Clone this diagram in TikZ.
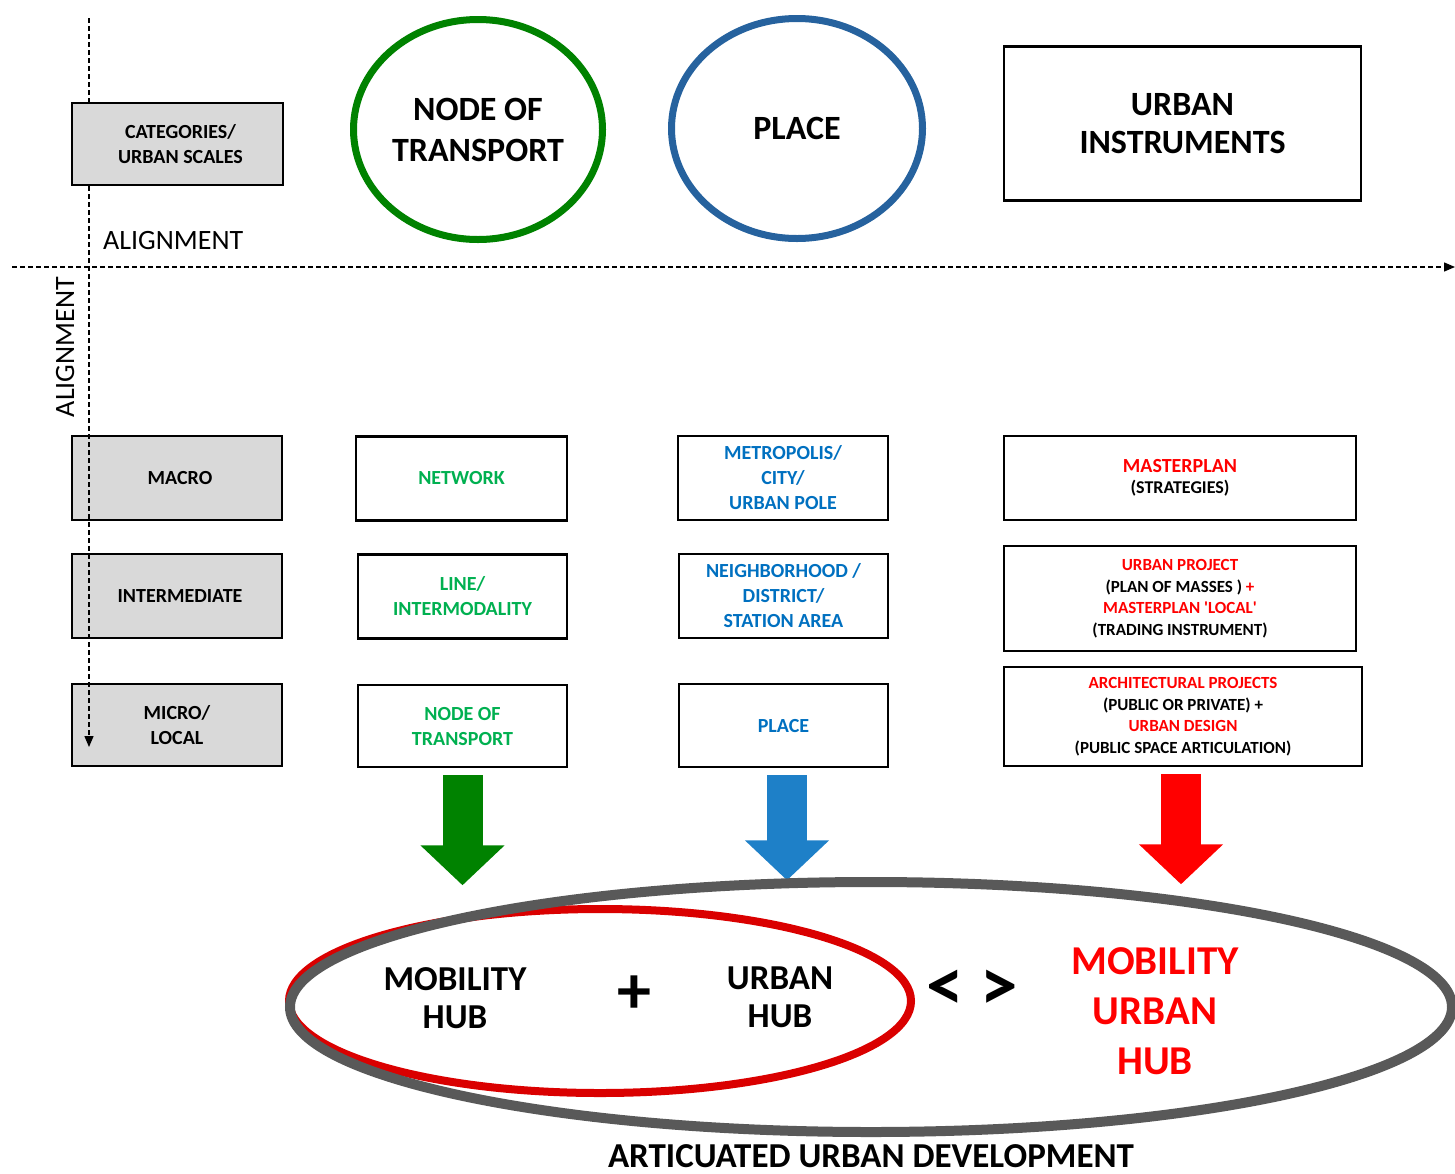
\documentclass[tikz,border=0pt]{standalone}
\usepackage{fontspec}
\setmainfont{Carlito}
\usetikzlibrary{arrows.meta,shapes.geometric}

\definecolor{boxgray}{RGB}{217,217,217}
\definecolor{txtgreen}{RGB}{0,176,80}
\definecolor{txtblue}{RGB}{0,112,192}
\definecolor{txtred}{RGB}{255,0,0}
\definecolor{ringgreen}{RGB}{0,130,0}
\definecolor{ringblue}{RGB}{38,98,158}
\definecolor{arrowblue}{RGB}{30,128,200}
\definecolor{ringgray}{RGB}{89,89,89}
\definecolor{ringred}{RGB}{218,0,0}

\begin{document}
\begin{tikzpicture}[x=1pt, y=-1pt,
	box/.style={draw, line width=2.5pt, align=center, inner sep=0pt,
		font=\bfseries\fontsize{20}{25}\selectfont},
	scalebox/.style={box, fill=boxgray, minimum width=210pt, minimum height=84pt},
	colbox/.style={box, minimum width=210pt, minimum height=84pt},
	instrbox/.style={box, minimum width=352pt, font=\bfseries\fontsize{17}{21.5}\selectfont},
	ring/.style={ellipse, draw, line width=7pt, inner sep=0pt, align=center,
		font=\bfseries\fontsize{34}{41}\selectfont},
	axis/.style={line width=1.3pt, dash pattern=on 5pt off 3pt, -{Triangle[length=11pt,width=9pt]}},
	axislabel/.style={font=\fontsize{28}{28}\selectfont, inner sep=0pt},
	blockarrow/.style={line width=40pt, -{Triangle[length=40pt,width=82pt]}},
	hubtext/.style={align=center, inner sep=0pt, font=\bfseries\fontsize{35}{38}\selectfont}]

	\useasboundingbox (0,0) rectangle (1455,1173);

	% scales
	\node[scalebox] (macro) at (177,478) {\hspace*{6pt}MACRO};
	\node[scalebox] (inter) at (177,596) {\hspace*{6pt}INTERMEDIATE};
	\node[scalebox, minimum height=82pt] (micro) at (177,725) {MICRO/\\LOCAL};

	% alignment axes
	\coordinate (vtop) at (89,18);
	\coordinate (vend) at (89,747);
	\coordinate (hstart) at (12,267);
	\coordinate (hend) at (1455,267);
	\draw[axis] (vtop) -- (vend);
	\draw[axis] (hstart) -- (hend);
	\node[axislabel, anchor=base west] (alignh) at (103,249) {ALIGNMENT};
	\node[axislabel, anchor=base, rotate=90] (alignv) at (74,347) {ALIGNMENT};

	\node[scalebox, minimum width=211pt, minimum height=82pt] (cat) at (177.5,144) {\hspace*{6pt}CATEGORIES/\\\hspace*{6pt}URBAN SCALES};

	% headers
	\node[ring, draw=ringgreen, minimum width=249pt, minimum height=220pt] (ntop) at (478,129.5) {NODE OF\\TRANSPORT};
	\node[ring, draw=ringblue, minimum width=251pt, minimum height=220pt] (ptop) at (797,128.5) {PLACE};
	\node[box, minimum width=357pt, minimum height=154pt, font=\bfseries\fontsize{34}{38}\selectfont] (itop) at (1182.5,123.5) {URBAN\\INSTRUMENTS};

	% node of transport column
	\node[colbox, text=txtgreen, minimum width=211pt] (net) at (461.5,478.5) {NETWORK};
	\node[colbox, text=txtgreen, minimum width=209pt] (line) at (462.5,596.5) {LINE/\\INTERMODALITY};
	\node[colbox, text=txtgreen, minimum width=209pt, minimum height=82pt] (nt) at (462.5,726) {NODE OF\\TRANSPORT};

	% place column
	\node[colbox, text=txtblue] (metro) at (783,478) {METROPOLIS/\\CITY/\\URBAN POLE};
	\node[colbox, text=txtblue, minimum width=209pt] (neigh) at (783.5,596) {NEIGHBORHOOD /\\DISTRICT/\\STATION AREA};
	\node[colbox, text=txtblue, minimum width=209pt, minimum height=83pt] (place) at (783.5,725.5) {PLACE};

	% instruments column
	\node[instrbox, minimum height=84pt] (master) at (1180,478) {\fontsize{20}{25}\selectfont\textcolor{txtred}{MASTERPLAN}\\\fontsize{18}{25}\selectfont(STRATEGIES)};
	\node[instrbox, minimum height=105pt] (uproj) at (1180,598.5) {\textcolor{txtred}{URBAN PROJECT}\\(PLAN OF MASSES )~\textcolor{txtred}{+}\\\textcolor{txtred}{MASTERPLAN \textquotesingle LOCAL\textquotesingle}\\(TRADING INSTRUMENT)};
	\node[instrbox, minimum width=358pt, minimum height=99pt] (arch) at (1183,716.5) {\textcolor{txtred}{ARCHITECTURAL PROJECTS}\\(PUBLIC OR PRIVATE) +\\\textcolor{txtred}{URBAN DESIGN}\\(PUBLIC SPACE ARTICULATION)};

	% block arrows
	\draw[blockarrow, ringgreen] ([yshift=-7pt]nt.south) -- ++(0,110);
	\draw[blockarrow, arrowblue] ([xshift=3.5pt,yshift=-7pt]place.south) -- ++(0,105);
	\draw[blockarrow, txtred] ([xshift=-2pt,yshift=-7pt]arch.south) -- ++(0,110);

	% hubs
	\node[ellipse, draw=ringred, line width=8pt, minimum width=622pt, minimum height=184pt] (hubring) at (600,1001) {};
	\node[ellipse, draw=ringgray, line width=10pt, minimum width=1162pt, minimum height=250pt] (devring) at (871,1007) {};
	\node[hubtext] (mobhub) at (455,998) {MOBILITY\\HUB};
	\node[hubtext, font=\bfseries\fontsize{68}{68}\selectfont] (plus) at (634,995) {+};
	\node[hubtext] (urbhub) at (780,997) {URBAN\\HUB};
	\node[hubtext, font=\bfseries\fontsize{75}{75}\selectfont] (ltgt) at (972,990) {< >};
	\node[hubtext, text=txtred, font=\bfseries\fontsize{41}{50}\selectfont] (muhub) at (1155,1011) {MOBILITY\\URBAN\\HUB};
	\node[hubtext, align=none, text depth=0pt, anchor=base] (aud) at (871,1167) {ARTICUATED URBAN DEVELOPMENT};
\end{tikzpicture}
\end{document}
